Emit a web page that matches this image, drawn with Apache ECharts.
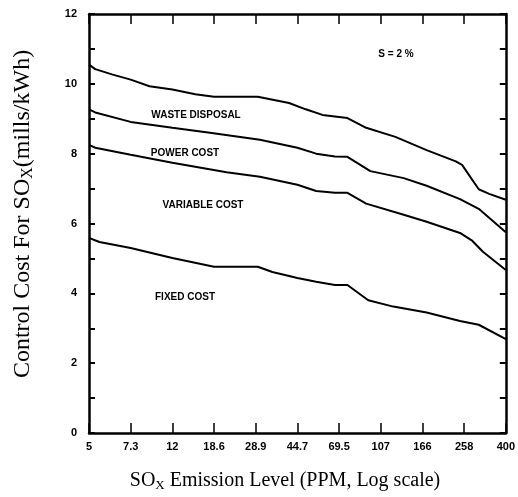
<!DOCTYPE html>
<html>
<head>
<meta charset="utf-8">
<script src="https://cdn.jsdelivr.net/npm/echarts@6/dist/echarts.min.js"></script>
<style>
  html, body { margin: 0; padding: 0; background: #fff; }
  #chart { width: 518px; height: 497px; }
</style>
</head>
<body>
<div id="chart"></div>
<script>
// Emission levels (ppm) printed under the evenly spaced log-scale ticks
const emissionLabels = ['5', '7.3', '12', '18.6', '28.9', '44.7', '69.5', '107', '166', '258', '400'];

// Cumulative control cost (mills/kWh); x is the position along the tick sequence
const totalWithWaste = [
  [0, 10.55], [0.15, 10.42], [0.55, 10.27], [1, 10.12], [1.45, 9.93], [2, 9.84],
  [2.55, 9.70], [3, 9.63], [4.05, 9.63], [4.8, 9.45], [5.2, 9.27], [5.6, 9.11],
  [6.2, 9.02], [6.65, 8.74], [7.35, 8.48], [8.1, 8.10], [8.8, 7.78], [8.95, 7.68],
  [9.35, 6.98], [9.6, 6.85], [10, 6.68]
];
const totalWithPower = [
  [0, 9.27], [0.15, 9.18], [1, 8.91], [2, 8.74], [2.9, 8.60], [3.5, 8.50],
  [4.1, 8.40], [5, 8.17], [5.45, 8.00], [5.9, 7.92], [6.2, 7.91], [6.75, 7.50],
  [7.55, 7.30], [8.1, 7.08], [8.9, 6.70], [9.35, 6.42], [10, 5.75]
];
const totalWithVariable = [
  [0, 8.25], [0.15, 8.17], [1, 7.97], [2, 7.74], [3.3, 7.47], [4.1, 7.34],
  [5, 7.11], [5.45, 6.93], [5.9, 6.88], [6.2, 6.88], [6.65, 6.57], [7.55, 6.25],
  [8.1, 6.05], [8.9, 5.73], [9.2, 5.50], [9.45, 5.19], [10, 4.67]
];
const fixedCost = [
  [0, 5.59], [0.25, 5.47], [1, 5.30], [2, 5.01], [3, 4.76], [4.05, 4.76],
  [4.4, 4.61], [5, 4.44], [5.45, 4.33], [5.9, 4.24], [6.2, 4.24], [6.7, 3.80],
  [7.3, 3.62], [8.1, 3.45], [8.9, 3.21], [9.35, 3.10], [10, 2.69]
];

const chart = echarts.init(document.getElementById('chart'), null, { renderer: 'canvas' });

const tickFont = { fontFamily: 'Liberation Sans', fontWeight: 'bold', fontSize: 11, color: '#000' };
const regionFont = { fontFamily: 'Liberation Sans', fontWeight: 'bold', fontSize: 10, fill: '#000' };
const titleFont = 'Liberation Serif';

function curve(name, data) {
  return {
    name, type: 'line', data,
    xAxisIndex: 0, yAxisIndex: 0,
    symbol: 'none', silent: true,
    lineStyle: { color: '#000', width: 2 }
  };
}

function regionLabel(text, cx, cy) {
  return {
    type: 'text', x: cx, y: cy,
    style: Object.assign({ text, textAlign: 'center', textVerticalAlign: 'middle' }, regionFont)
  };
}

// Frame axes: all four sides drawn at the grid edge with inward ticks
const xCommon = {
  type: 'value', min: 0, max: 10, interval: 1,
  axisLine: { show: true, onZero: false, lineStyle: { color: '#000', width: 2.5 } },
  axisTick: { show: true, inside: true, length: 10, lineStyle: { color: '#000', width: 1.5 } },
  splitLine: { show: false }
};
const yCommon = {
  type: 'value', min: 0, max: 12, interval: 1,
  axisLine: { show: true, onZero: false, lineStyle: { color: '#000', width: 2.5 } },
  axisTick: { show: true, inside: true, length: 6, lineStyle: { color: '#000', width: 2 } },
  splitLine: { show: false }
};

chart.setOption({
  animation: false,
  backgroundColor: '#fff',
  grid: { left: 89, right: 5, top: 14, bottom: 64, containLabel: false },
  xAxis: [
    Object.assign({}, xCommon, {
      position: 'bottom',
      axisLabel: Object.assign({ margin: 8, formatter: v => emissionLabels[Math.round(v)] }, tickFont)
    }),
    Object.assign({}, xCommon, { position: 'top', axisLabel: { show: false } })
  ],
  yAxis: [
    Object.assign({}, yCommon, {
      position: 'left',
      axisLabel: Object.assign({ margin: 12, formatter: v => (v % 2 === 0 ? String(v) : '') }, tickFont)
    }),
    Object.assign({}, yCommon, { position: 'right', axisLabel: { show: false } })
  ],
  series: [
    curve('Waste disposal', totalWithWaste),
    curve('Power cost', totalWithPower),
    curve('Variable cost', totalWithVariable),
    curve('Fixed cost', fixedCost)
  ],
  graphic: [
    regionLabel('WASTE DISPOSAL', 196, 115),
    regionLabel('POWER COST', 185, 153),
    regionLabel('VARIABLE COST', 203, 205),
    regionLabel('FIXED COST', 185, 297),
    regionLabel('S = 2 %', 396, 54),
    {
      type: 'text', x: 285, y: 481,
      style: {
        text: '{m|SO}{s|X}{m| Emission Level (PPM, Log scale)}',
        textAlign: 'center', textVerticalAlign: 'middle',
        rich: {
          m: { fontFamily: titleFont, fontSize: 20, fill: '#000' },
          s: { fontFamily: titleFont, fontSize: 13, fill: '#000', padding: [9, 0, 0, 0] }
        }
      }
    },
    {
      type: 'text', x: 23, y: 214, rotation: Math.PI / 2,
      style: {
        text: '{m|Control Cost For SO}{s|X}{m|(mills/kWh)}',
        textAlign: 'center', textVerticalAlign: 'middle',
        rich: {
          m: { fontFamily: titleFont, fontSize: 24, fill: '#000' },
          s: { fontFamily: titleFont, fontSize: 16, fill: '#000', padding: [10, 0, 0, 0] }
        }
      }
    }
  ]
});
</script>
</body>
</html>
